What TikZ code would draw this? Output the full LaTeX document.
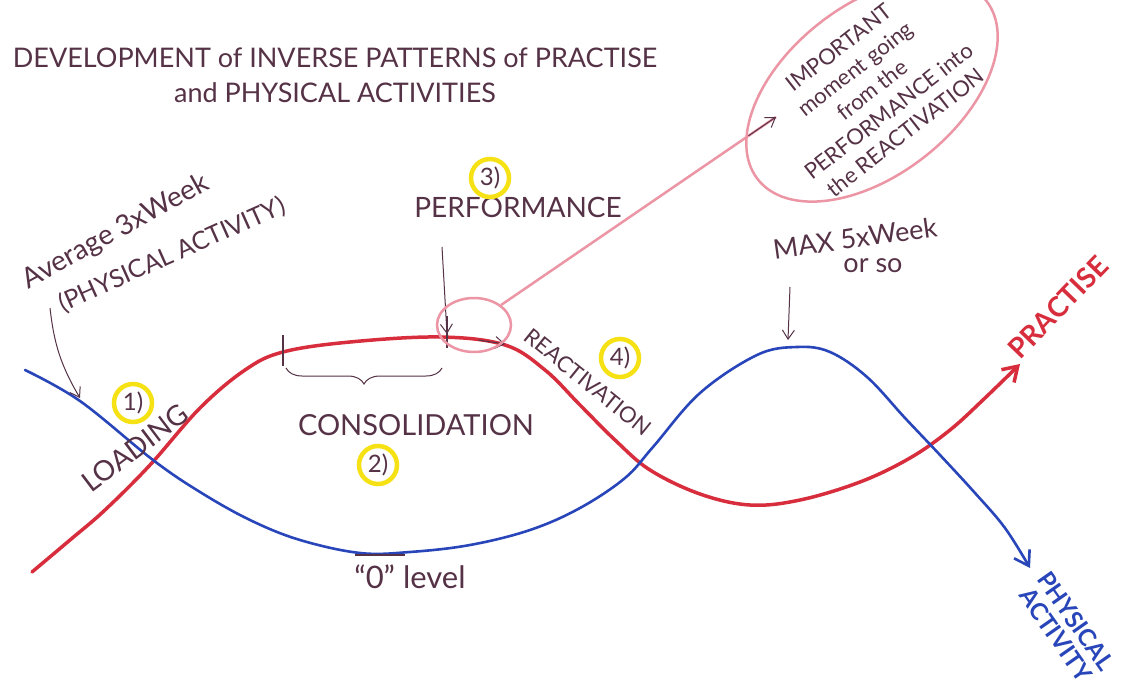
\documentclass[tikz,border=0pt]{standalone}
\usepackage{fontspec}
\setmainfont{Lato}
\usetikzlibrary{arrows.meta,shapes.geometric,decorations.pathreplacing,calc}

\definecolor{inkcolor}{RGB}{85,50,70}
\definecolor{practisecolor}{RGB}{215,45,60}
\definecolor{activitycolor}{RGB}{40,70,185}
\definecolor{momentcolor}{RGB}{236,150,165}
\definecolor{badgecolor}{RGB}{246,226,20}
\newcommand{\badge}[3]{%
  \node[draw=badgecolor, line width=4.5pt, circle, minimum size=38pt, inner sep=0pt,
        text=inkcolor, font=\fontsize{24}{24}\selectfont] (#1) at (#2) {#3};
}

\begin{document}
\begin{tikzpicture}[x=1pt, y=-1pt,
    ink/.style={draw=inkcolor, line width=1pt},
    inkarrow/.style={ink, -{Straight Barb[length=9pt, width=12pt]}},
    handtext/.style={text=inkcolor, inner sep=0pt},
    practiseline/.style={draw=practisecolor, line width=3.5pt, line cap=round},
    activityline/.style={draw=activitycolor, line width=2.6pt, line cap=round},
    momentline/.style={draw=momentcolor, line width=2.5pt}]
    % Page
    \useasboundingbox[fill=white] (0,0) rectangle (1130,698);
    % Title
    \node[handtext, font=\fontsize{27}{27}\selectfont] (title1) at (335,58) {DEVELOPMENT of INVERSE PATTERNS of PRACTISE};
    \node[handtext, font=\fontsize{27}{27}\selectfont] (title2) at (335,93) {and PHYSICAL ACTIVITIES};
    % Curves
    \draw[practiseline, -{Straight Barb[length=14pt, width=18pt]}] plot[smooth, tension=0.6] coordinates {
      (32,572) (70,540) (105,510) (150,465) (200,408) (245,370) (283,352) (350,342)
      (440,337) (505,345) (545,370) (580,405) (615,440) (650,470) (700,494) (750,505)
      (800,500) (860,482) (910,458) (950,430) (985,398) (1020,364)};
    \draw[activityline, -{Straight Barb[length=14pt, width=18pt]}] plot[smooth, tension=0.6] coordinates {
      (25,370) (80,401) (153,460) (200,492) (250,520) (300,540) (360,553) (410,552)
      (470,545) (530,530) (580,508) (625,478) (653,447) (700,393) (757,355) (797,347)
      (830,352) (867,377) (905,418) (940,455) (975,493) (1005,528) (1030,568)};
    % Marks on the curves
    \coordinate (consstart) at (283,350);
    \coordinate (perfpoint) at (447,334);
    \draw[ink, line width=1.3pt] (283,335) -- (283,366);
    \draw[ink, line width=1.3pt] (447,316) -- (447,348);
    \draw[inkarrow] (478,340) -- (505,344);
    \draw[ink, line width=2pt] (355,555) -- (405,555);
    \draw[ink, decorate, decoration={brace, mirror, amplitude=16pt}] (286,368) -- (442,368);
    % Labels
    \node[handtext, rotate=29, font=\fontsize{28}{28}\selectfont] (average) at (116,232) {Average 3xWeek};
    \node[handtext, rotate=24, font=\fontsize{25}{25}\selectfont] (averagenote) at (172,255) {(PHYSICAL ACTIVITY)};
    \node[handtext, rotate=37, font=\fontsize{28}{28}\selectfont] (loading) at (135,448) {LOADING};
    \node[handtext, font=\fontsize{29}{29}\selectfont] (consolidation) at (416,425) {CONSOLIDATION};
    \node[handtext, font=\fontsize{28}{28}\selectfont] (performance) at (518,207) {PERFORMANCE};
    \node[handtext, rotate=-39, font=\fontsize{22}{22}\selectfont] (reactivation) at (588,382) {REACTIVATION};
    \node[handtext, rotate=8, font=\fontsize{27}{27}\selectfont] (maxweek) at (855,238) {MAX 5xWeek};
    \node[handtext, font=\fontsize{27}{27}\selectfont] (orso) at (873,266) {or so};
    \node[handtext, font=\fontsize{31}{31}\selectfont] (zerolevel) at (410,577) {“0” level};
    \node[text=practisecolor, rotate=46, inner sep=0pt, font=\fontsize{28}{28}\selectfont\bfseries] (practise) at (1058,307) {PRACTISE};
    \node[text=activitycolor, rotate=-55, inner sep=0pt, font=\fontsize{24}{24}\selectfont\bfseries, align=center] (activity) at (1066,628) {PHYSICAL\\ACTIVITY};
    % Numbers
    \badge{one}{133,403}{1)}
    \badge{two}{378,465}{2)}
    \badge{three}{490,178}{3)}
    \badge{four}{620,358}{4)}
    % Pointers
    \coordinate (avgpoint) at (80,398);
    \coordinate (maxpoint) at (788,340);
    \draw[inkarrow] (50,308) to[bend right=12] (avgpoint);
    \draw[inkarrow] (442,247) -- (perfpoint);
    \draw[inkarrow] (790,287) -- (maxpoint);
    % Important moment
    \node[momentline, ellipse, minimum width=74pt, minimum height=54pt] (switch) at (474,325) {};
    \node[momentline, ellipse, rotate=38, minimum width=290pt, minimum height=170pt, inner sep=-22pt,
          text=inkcolor, align=center, font=\fontsize{22}{27}\selectfont] (moment) at (872,90)
      {IMPORTANT\\moment going\\from the\\PERFORMANCE into\\the REACTIVATION};
    \coordinate (momentin) at (776,117);
    \draw[momentline] (switch.north east) -- (momentin);
    \draw[inkarrow] ($(switch.north east)!0.9!(momentin)$) -- (momentin);
\end{tikzpicture}
\end{document}
